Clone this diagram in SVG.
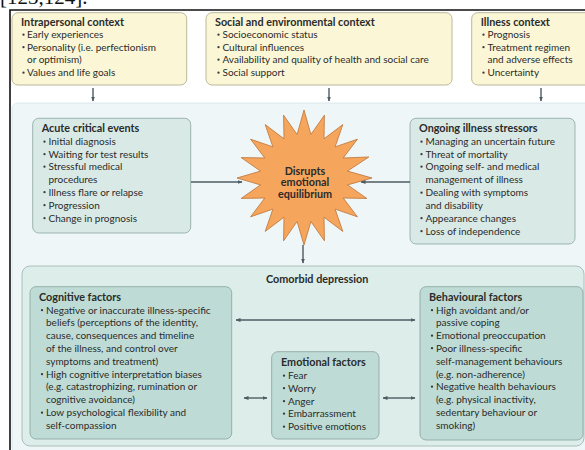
<svg xmlns="http://www.w3.org/2000/svg" width="585" height="450" viewBox="0 0 585 450">
<defs>
<style>
text{font-family:Lato,"Open Sans","Liberation Sans",sans-serif;fill:#2b2b2b;font-size:10px}
.t{font-weight:bold;font-size:10.8px}
.ctx{fill:#fbf7d6;stroke:#b3b092;stroke-width:0.9}
.grp{fill:#d9eae6;stroke:#94aeaa;stroke-width:0.9}
.inner{fill:#bedcd5;stroke:#8fa8a4;stroke-width:0.9}
.con{stroke:#4d5b62;stroke-width:1.4;fill:none}
.bl{fill:#3a3a3a}
</style>
<circle id="b" r="1.15" class="bl"/>
<marker id="ah" viewBox="0 0 10 10" refX="9" refY="5" markerWidth="5" markerHeight="5" orient="auto-start-reverse" markerUnits="userSpaceOnUse">
<path d="M0,1 L10,5 L0,9 Z" fill="#4d5b62"/>
</marker>
</defs>
<rect width="585" height="450" fill="#ffffff"/>
<text x="0" y="4" style="font-family:'Liberation Serif',serif;font-size:21px;fill:#111">[123,124].</text>
<path d="M10,450 V10 H585" fill="none" stroke="#111" stroke-width="1.6"/>
<rect x="12" y="103" width="580" height="350" rx="6" fill="#eef6f8" stroke="#d6e4e7" stroke-width="0.8"/>
<rect x="22" y="266" width="562" height="180" rx="8" fill="#ddeeea" stroke="#a3b9b5" stroke-width="0.9"/>

<g id="intrapersonal">
<rect class="ctx" x="12" y="12.7" width="174.7" height="72.3" rx="6"/>
<text class="t" x="21" y="26">Intrapersonal context</text>
<use href="#b" x="23.5" y="34.7"/><text x="27" y="38">Early experiences</text>
<use href="#b" x="23.5" y="47.2"/><text x="27" y="50.5">Personality (i.e. perfectionism</text>
<text x="27" y="63">or optimism)</text>
<use href="#b" x="23.5" y="72.7"/><text x="27" y="76">Values and life goals</text>
</g>
<g id="social">
<rect class="ctx" x="206" y="12.7" width="246" height="72.3" rx="6"/>
<text class="t" x="215" y="26">Social and environmental context</text>
<use href="#b" x="218.5" y="34.7"/><text x="222.5" y="38">Socioeconomic status</text>
<use href="#b" x="218.5" y="47.2"/><text x="222.5" y="50.5">Cultural influences</text>
<use href="#b" x="218.5" y="59.7"/><text x="222.5" y="63">Availability and quality of health and social care</text>
<use href="#b" x="218.5" y="72.7"/><text x="222.5" y="76">Social support</text>
</g>
<g id="illness">
<rect class="ctx" x="471.7" y="12.7" width="130" height="72.3" rx="6"/>
<text class="t" x="480.7" y="26">Illness context</text>
<use href="#b" x="483.5" y="34.7"/><text x="487.5" y="38">Prognosis</text>
<use href="#b" x="483.5" y="47.2"/><text x="487.5" y="50.5">Treatment regimen</text>
<text x="487.5" y="63">and adverse effects</text>
<use href="#b" x="483.5" y="72.7"/><text x="487.5" y="76">Uncertainty</text>
</g>

<g id="acute">
<rect class="grp" x="32.7" y="118.3" width="158" height="114.7" rx="6"/>
<text class="t" x="41.7" y="132">Acute critical events</text>
<use href="#b" x="44.5" y="141.7"/><text x="48.5" y="145">Initial diagnosis</text>
<use href="#b" x="44.5" y="154.2"/><text x="48.5" y="157.5">Waiting for test results</text>
<use href="#b" x="44.5" y="166.7"/><text x="48.5" y="170">Stressful medical</text>
<text x="48.5" y="183">procedures</text>
<use href="#b" x="44.5" y="192.2"/><text x="48.5" y="195.5">Illness flare or relapse</text>
<use href="#b" x="44.5" y="205.2"/><text x="48.5" y="208.5">Progression</text>
<use href="#b" x="44.5" y="218.2"/><text x="48.5" y="221.5">Change in prognosis</text>
</g>

<g id="ongoing">
<rect class="grp" x="410" y="118.3" width="165" height="125.7" rx="6"/>
<text class="t" x="419" y="132">Ongoing illness stressors</text>
<use href="#b" x="421.5" y="141.7"/><text x="425.5" y="145">Managing an uncertain future</text>
<use href="#b" x="421.5" y="154.2"/><text x="425.5" y="157.5">Threat of mortality</text>
<use href="#b" x="421.5" y="166.7"/><text x="425.5" y="170">Ongoing self- and medical</text>
<text x="425.5" y="183">management of illness</text>
<use href="#b" x="421.5" y="192.7"/><text x="425.5" y="196">Dealing with symptoms</text>
<text x="425.5" y="208.5">and disability</text>
<use href="#b" x="421.5" y="218.2"/><text x="425.5" y="221.5">Appearance changes</text>
<use href="#b" x="421.5" y="231.2"/><text x="425.5" y="234.5">Loss of independence</text>
</g>

<g id="disrupts">
<polygon fill="#f6a55c" stroke="#c27d42" stroke-width="0.9" points="304,110 310.9,134.5 324.4,115.2 324.0,138.8 342.8,124.6 335.1,146.9 357.4,139.2 343.2,158.0 368.8,157 347.5,171.1 372,178 347.5,184.9 366.8,198.4 343.2,198.0 357.4,216.8 335.1,209.1 342.8,231.4 324.0,217.2 324.4,240.8 310.9,221.5 304,245 297.1,221.5 283.6,240.8 284.0,217.2 265.2,231.4 272.9,209.1 250.6,216.8 264.8,198.0 241.2,198.4 260.5,184.9 237,178 260.5,171.1 241.2,157.6 264.8,158.0 250.6,139.2 272.9,146.9 265.2,124.6 284.0,138.8 283.6,115.2 297.1,134.5"/>
<text class="t" x="305" y="174.5" text-anchor="middle">Disrupts</text>
<text class="t" x="305" y="186" text-anchor="middle">emotional</text>
<text class="t" x="305" y="197.5" text-anchor="middle">equilibrium</text>
</g>

<text class="t" x="266" y="283">Comorbid depression</text>

<g id="cognitive">
<rect class="inner" x="30" y="286.7" width="201.7" height="152.3" rx="6"/>
<text class="t" x="39" y="301">Cognitive factors</text>
<use href="#b" x="42" y="310.2"/><text x="46" y="313.5">Negative or inaccurate illness-specific</text>
<text x="46" y="326">beliefs (perceptions of the identity,</text>
<text x="46" y="338.5">cause, consequences and timeline</text>
<text x="46" y="351.5">of the illness, and control over</text>
<text x="46" y="364.5">symptoms and treatment)</text>
<use href="#b" x="42" y="374.2"/><text x="46" y="377.5">High cognitive interpretation biases</text>
<text x="46" y="390">(e.g. catastrophizing, rumination or</text>
<text x="46" y="403">cognitive avoidance)</text>
<use href="#b" x="42" y="412.7"/><text x="46" y="416">Low psychological flexibility and</text>
<text x="46" y="428.5">self-compassion</text>
</g>

<g id="emotional">
<rect class="inner" x="271.7" y="351.7" width="107.3" height="87.3" rx="6"/>
<text class="t" x="281" y="366">Emotional factors</text>
<use href="#b" x="284" y="375.7"/><text x="288" y="379">Fear</text>
<use href="#b" x="284" y="388.2"/><text x="288" y="391.5">Worry</text>
<use href="#b" x="284" y="401.2"/><text x="288" y="404.5">Anger</text>
<use href="#b" x="284" y="413.7"/><text x="288" y="417">Embarrassment</text>
<use href="#b" x="284" y="426.7"/><text x="288" y="430">Positive emotions</text>
</g>

<g id="behavioural">
<rect class="inner" x="420" y="286.7" width="163" height="153.3" rx="6"/>
<text class="t" x="429" y="301">Behavioural factors</text>
<use href="#b" x="432" y="310.2"/><text x="436" y="313.5">High avoidant and/or</text>
<text x="436" y="326">passive coping</text>
<use href="#b" x="432" y="335.7"/><text x="436" y="339">Emotional preoccupation</text>
<use href="#b" x="432" y="348.2"/><text x="436" y="351.5">Poor illness-specific</text>
<text x="436" y="364.5">self-management behaviours</text>
<text x="436" y="377.5">(e.g. non-adherence)</text>
<use href="#b" x="432" y="386.7"/><text x="436" y="390">Negative health behaviours</text>
<text x="436" y="403">(e.g. physical inactivity,</text>
<text x="436" y="416">sedentary behaviour or</text>
<text x="436" y="428.5">smoking)</text>
</g>

<g id="connectors" class="con">
<line x1="93" y1="88" x2="93" y2="101" marker-end="url(#ah)"/>
<line x1="329" y1="88" x2="329" y2="101" marker-end="url(#ah)"/>
<line x1="541" y1="88" x2="541" y2="101" marker-end="url(#ah)"/>
<line x1="191" y1="182" x2="242" y2="182" marker-end="url(#ah)"/>
<line x1="410" y1="182" x2="361" y2="182" marker-end="url(#ah)"/>
<line x1="303" y1="245" x2="303" y2="263" marker-end="url(#ah)"/>
<line x1="236" y1="320" x2="415" y2="320" marker-start="url(#ah)" marker-end="url(#ah)"/>
<line x1="244" y1="398" x2="267" y2="398" marker-start="url(#ah)" marker-end="url(#ah)"/>
<line x1="383" y1="398" x2="415" y2="398" marker-start="url(#ah)" marker-end="url(#ah)"/>
</g>
</svg>
